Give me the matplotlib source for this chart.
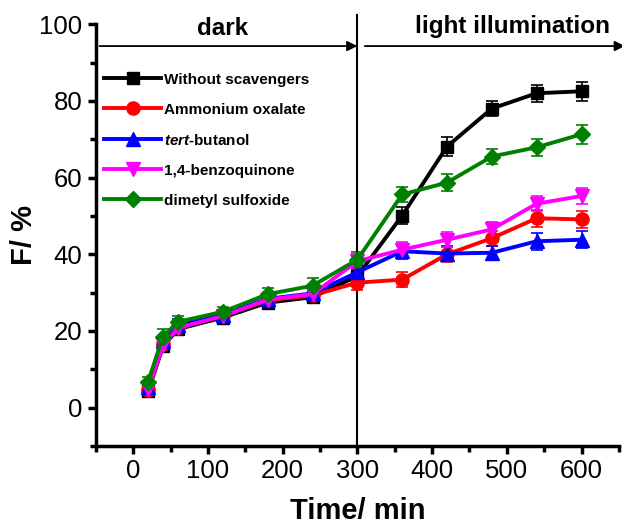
import numpy as np
import matplotlib.pyplot as plt
from matplotlib.lines import Line2D
from matplotlib.ticker import MultipleLocator

plt.rcParams['font.family'] = ['Liberation Sans', 'DejaVu Sans']
plt.rcParams['mathtext.fontset'] = 'custom'
plt.rcParams['mathtext.it'] = 'Liberation Sans:italic:bold'
plt.rcParams['mathtext.rm'] = 'Liberation Sans:bold'

time = [20, 40, 60, 120, 180, 240, 300, 360, 420, 480, 540, 600]

without_scav = [4.3, 16.0, 20.5, 23.5, 27.4, 28.8, 34.3, 50.1, 68.1, 78.0, 82.0, 82.5]
amm_oxalate = [4.5, 16.5, 21.0, 24.0, 28.0, 29.3, 32.6, 33.4, 40.0, 44.2, 49.4, 49.1]
tert_butanol = [5.5, 17.3, 21.5, 24.3, 28.4, 29.8, 35.3, 40.8, 40.2, 40.4, 43.4, 43.8]
benzoquinone = [5.0, 16.3, 20.8, 23.9, 28.2, 29.6, 38.2, 41.2, 43.8, 46.5, 53.2, 55.2]
dmso = [6.8, 18.5, 22.4, 25.0, 29.6, 31.8, 38.6, 55.6, 58.7, 65.5, 67.9, 71.3]

err_without = [1.2, 1.5, 1.5, 1.3, 1.5, 1.5, 1.8, 2.3, 2.4, 2.0, 2.2, 2.5]
err_oxalate = [1.2, 1.5, 1.5, 1.3, 1.5, 1.5, 2.0, 2.0, 2.0, 2.0, 2.2, 2.3]
err_butanol = [1.2, 1.5, 1.5, 1.3, 1.5, 1.5, 1.8, 2.0, 2.0, 1.8, 2.2, 2.2]
err_quinone = [1.2, 1.5, 1.5, 1.3, 1.5, 1.5, 1.8, 2.0, 2.0, 2.0, 2.0, 2.2]
err_dmso = [1.2, 2.0, 1.5, 1.3, 1.5, 2.0, 2.0, 2.0, 2.2, 2.0, 2.2, 2.5]

labels = ['Without scavengers', 'Ammonium oxalate', r'$\it{tert}$-butanol',
          '1,4-benzoquinone', 'dimetyl sulfoxide']
series = [without_scav, amm_oxalate, tert_butanol, benzoquinone, dmso]
errors = [err_without, err_oxalate, err_butanol, err_quinone, err_dmso]
colors = ['black', 'red', 'blue', 'magenta', 'green']
markers = ['s', 'o', '^', 'v', 'D']
msizes = [8.5, 9.5, 9.5, 9.5, 8.5]

fig = plt.figure(figsize=(6.22, 5.26), dpi=100)
ax = fig.add_axes([0.154, 0.152, 0.841, 0.802])

handles = []
for y, e, c, m, ms, lab in zip(series, errors, colors, markers, msizes, labels):
    ax.errorbar(time, y, yerr=e, color=c, marker=m, markersize=ms, lw=2.8,
                elinewidth=1.2, capsize=4, capthick=1.2)
    handles.append(Line2D([], [], color=c, marker=m, markersize=ms, lw=2.8, label=lab))

ax.set_xlim(-50, 650)
ax.set_ylim(-10, 100)

# divider between the dark and illuminated stages
ax.plot([300, 300], [-10, 102.5], color='black', lw=1.5, clip_on=False)

ax.annotate('', xy=(300, 94.3), xytext=(-45, 94.3),
            arrowprops=dict(arrowstyle='-|>', color='black', lw=1.3,
                            mutation_scale=15, shrinkA=0, shrinkB=0),
            annotation_clip=False)
ax.annotate('', xy=(658, 94.3), xytext=(310, 94.3),
            arrowprops=dict(arrowstyle='-|>', color='black', lw=1.3,
                            mutation_scale=15, shrinkA=0, shrinkB=0),
            annotation_clip=False)
ax.text(120, 99, 'dark', fontsize=17.5, fontweight='bold', ha='center', va='center')
ax.text(508, 99.5, 'light illumination', fontsize=17.5, fontweight='bold',
        ha='center', va='center', clip_on=False)

for side in ['top', 'right']:
    ax.spines[side].set_visible(False)
for side in ['left', 'bottom']:
    ax.spines[side].set_linewidth(2.5)

ax.xaxis.set_major_locator(MultipleLocator(100))
ax.xaxis.set_minor_locator(MultipleLocator(50))
ax.yaxis.set_major_locator(MultipleLocator(20))
ax.yaxis.set_minor_locator(MultipleLocator(10))
ax.tick_params(which='major', direction='out', length=6, width=2.5, labelsize=18.5)
ax.tick_params(which='minor', direction='out', length=4, width=2.5)

ax.set_xlabel('Time/ min', fontsize=21, fontweight='bold', labelpad=10)
ax.set_ylabel('F/ %', fontsize=21, fontweight='bold', labelpad=1)

leg = ax.legend(handles=handles, loc='upper left', bbox_to_anchor=(-0.01, 0.918),
                frameon=False, handlelength=3.7, handletextpad=0.2,
                labelspacing=1.05, prop={'weight': 'bold', 'size': 11})

fig.savefig('out.png', dpi=100)
